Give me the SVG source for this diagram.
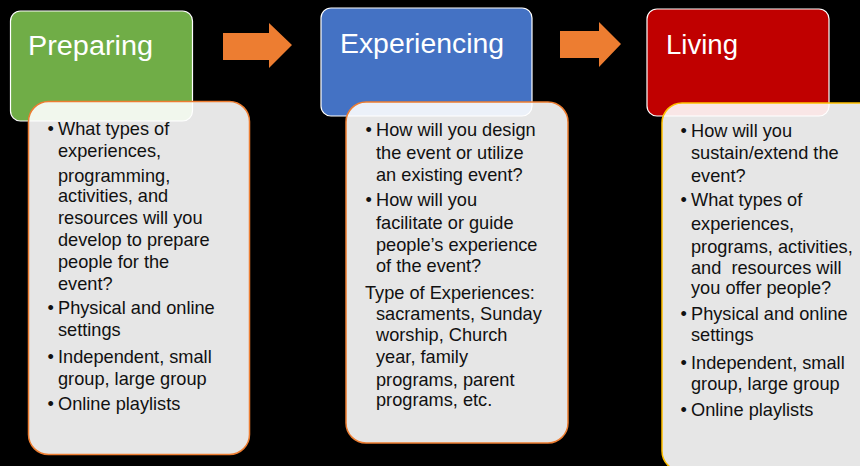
<svg xmlns="http://www.w3.org/2000/svg" width="860" height="466" viewBox="0 0 860 466">
<style>
.hdr{stroke:#ffffff;stroke-width:1.2}
.title{font-family:"Liberation Sans",Arial,sans-serif;font-size:27px;fill:#ffffff}
.card{fill:#ffffff;fill-opacity:0.9;stroke:#ed7d31;stroke-width:1.5}
.card3{fill:#ffffff;fill-opacity:0.9;stroke:#ffc000;stroke-width:1.5}
.body{font-family:"Liberation Sans",Arial,sans-serif;font-size:18.2px;fill:#111111}
.arrow{fill:#ed7d31}
</style>
<rect width="860" height="466" fill="#000000"/>

<g id="preparing-header">
<rect class="hdr" x="10.5" y="11" width="182" height="110" rx="10" fill="#70ad47"/>
<text class="title" x="28" y="54.5" textLength="125" lengthAdjust="spacingAndGlyphs">Preparing</text>
</g>
<g id="experiencing-header">
<rect class="hdr" x="321" y="8" width="211" height="108" rx="10" fill="#4472c4"/>
<text class="title" x="340" y="53" textLength="164" lengthAdjust="spacingAndGlyphs">Experiencing</text>
</g>
<g id="living-header">
<rect class="hdr" x="647" y="9" width="182" height="107" rx="10" fill="#c00000"/>
<text class="title" x="666" y="54" textLength="72" lengthAdjust="spacingAndGlyphs">Living</text>
</g>

<g id="connectors">
<polygon class="arrow" points="223,33 269,33 269,23 292,45 269,68 269,60 223,60"/>
<polygon class="arrow" points="560,31 599,31 599,22 621,44 599,67 599,58 560,58"/>
</g>

<g id="preparing-details">
<rect class="card" x="28.5" y="101.5" width="221" height="353" rx="20"/>
<g class="body">
<text x="47.5" y="134.5">•</text>
<text x="58" y="134.5">What types of</text>
<text x="58" y="156.5">experiences,</text>
<text x="58" y="181.5">programming,</text>
<text x="58" y="201.5">activities, and</text>
<text x="58" y="223.5">resources will you</text>
<text x="58" y="245.5">develop to prepare</text>
<text x="58" y="267.5">people for the</text>
<text x="58" y="289.5">event?</text>
<text x="47.5" y="313.5">•</text>
<text x="58" y="313.5">Physical and online</text>
<text x="58" y="336">settings</text>
<text x="47.5" y="362.5">•</text>
<text x="58" y="362.5">Independent, small</text>
<text x="58" y="385">group, large group</text>
<text x="47.5" y="409.5">•</text>
<text x="58" y="409.5">Online playlists</text>
</g>
</g>

<g id="experiencing-details">
<rect class="card" x="346" y="102" width="222" height="341" rx="20"/>
<g class="body">
<text x="365.5" y="136">•</text>
<text x="376" y="136">How will you design</text>
<text x="376" y="158.5">the event or utilize</text>
<text x="376" y="180.5">an existing event?</text>
<text x="365.5" y="206">•</text>
<text x="376" y="206">How will you</text>
<text x="376" y="228.5">facilitate or guide</text>
<text x="376" y="251">people’s experience</text>
<text x="376" y="272">of the event?</text>
<text x="365" y="298.5">Type of Experiences:</text>
<text x="376" y="320">sacraments, Sunday</text>
<text x="376" y="341">worship, Church</text>
<text x="376" y="363">year, family</text>
<text x="376" y="386">programs, parent</text>
<text x="376" y="406">programs, etc.</text>
</g>
</g>

<g id="living-details">
<rect class="card3" x="662" y="103" width="220" height="368" rx="20"/>
<g class="body">
<text x="680.5" y="137">•</text>
<text x="691" y="137">How will you</text>
<text x="691" y="158.5">sustain/extend the</text>
<text x="691" y="181.5">event?</text>
<text x="680.5" y="206">•</text>
<text x="691" y="206">What types of</text>
<text x="691" y="230">experiences,</text>
<text x="691" y="252.5">programs, activities,</text>
<text x="691" y="273.5" xml:space="preserve">and  resources will</text>
<text x="691" y="294">you offer people?</text>
<text x="680.5" y="320">•</text>
<text x="691" y="320">Physical and online</text>
<text x="691" y="341">settings</text>
<text x="680.5" y="368.5">•</text>
<text x="691" y="368.5">Independent, small</text>
<text x="691" y="390">group, large group</text>
<text x="680.5" y="416">•</text>
<text x="691" y="416">Online playlists</text>
</g>
</g>
</svg>
